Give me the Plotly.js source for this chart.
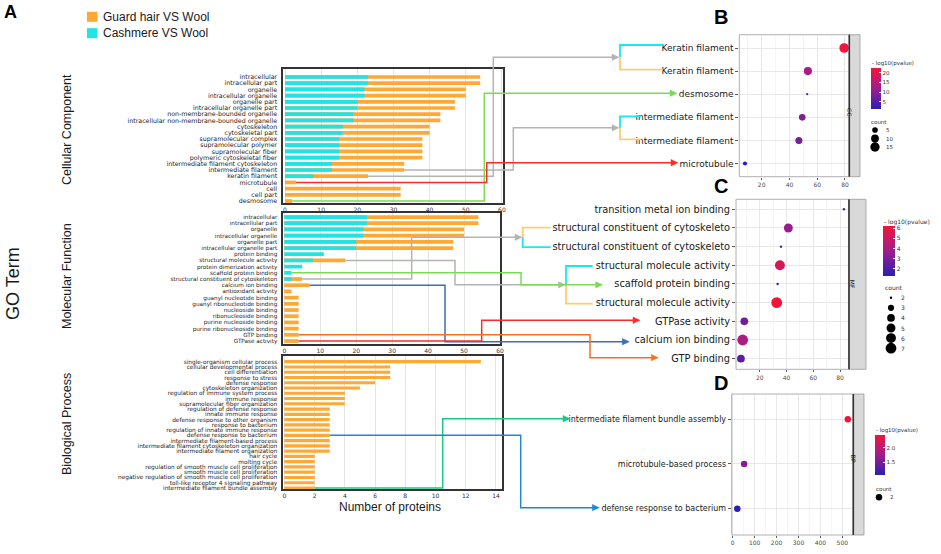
<!DOCTYPE html>
<html><head><meta charset="utf-8">
<script src="https://cdn.plot.ly/plotly-3.0.1.min.js"></script>
<style>html,body{margin:0;padding:0;background:#fff}</style>
</head><body><div id="chart" style="width:941px;height:554px"></div>
<script>
// ---------------- data ----------------
const ccTerms = ["intracellular","intracellular part","organelle","intracellular organelle","organelle part","intracellular organelle part","non-membrane-bounded organelle","intracellular non-membrane-bounded organelle","cytoskeleton","cytoskeletal part","supramolecular complex","supramolecular polymer","supramolecular fiber","polymeric cytoskeletal fiber","intermediate filament cytoskeleton","intermediate filament","keratin filament","microtubule","cell","cell part","desmosome"];
const ccGuard    = [54,54,50,50,47,47,43,43,40,40,38,38,38,38,33,33,23,3,32,32,2];
const ccCashmere = [23,23,22,22,20,20,19,19,16,16,15,15,15,15,13,13,8,0,0,0,0];

const mfTerms = ["intracellular","intracellular part","organelle","intracellular organelle","organelle part","intracellular organelle part","protein binding","structural molecule activity","protein dimerization activity","scaffold protein binding","structural constituent of cytoskeleton","calcium ion binding","antioxidant activity","guanyl nucleotide binding","guanyl ribonucleotide binding","nucleoside binding","ribonucleoside binding","purine nucleoside binding","purine ribonucleoside binding","GTP binding","GTPase activity"];
const mfGuard    = [54,54,50,50,47,47,0,17,0,0,5,7,2,4,4,4,4,4,4,4,4];
const mfCashmere = [23,23,22,22,20,20,11,8,5,2,2,0,0,0,0,0,0,0,0,0,0];

const bpTerms = ["single-organism cellular process","cellular developmental process","cell differentiation","response to stress","defense response","cytoskeleton organization","regulation of immune system process","immune response","supramolecular fiber organization","regulation of defense response","innate immune response","defense response to other organism","response to bacterium","regulation of innate immune response","defense response to bacterium","intermediate filament-based process","intermediate filament cytoskeleton organization","intermediate filament organization","hair cycle","molting cycle","regulation of smooth muscle cell proliferation","smooth muscle cell proliferation","negative regulation of smooth muscle cell proliferation","toll-like receptor 4 signaling pathway","intermediate filament bundle assembly"];
const bpGuard = [13,7,7,7,6,5,4,4,4,3,3,3,3,3,3,3,3,3,2,2,2,2,2,2,2];

const bTerms = ["Keratin filament","Keratin filament","desmosome","intermediate filament","intermediate filament","microtubule"];
const bX     = [79.4,53.3,52.8,49.2,46.8,8.0];
const bLogP  = [22.6,13,5,9.5,8.5,1.4];
const bCount = [16,11,2,7,8,3];
const bCountLegend = [5,10,15];

const cTerms = ["transition metal ion binding","structural constituent of cytoskeleto","structural constituent of cytoskeleto","structural molecule activity","scaffold protein binding","structural molecule activity","GTPase activity","calcium ion binding","GTP binding"];
const cX     = [82.9,41.4,35.9,35.1,33.4,32.7,8.5,7.3,6.0];
const cLogP  = [1.8,3.6,1.5,5.3,1.3,6.2,2.8,4.1,2.3];
const cCount = [2,5,2,6,2,7,4,7,4];
const cCountLegend = [2,3,4,5,6,7];

const dTerms = ["intermediate filament bundle assembly","microtubule-based process","defense response to bacterium"];
const dX     = [525,52,21];
const dLogP  = [2.43,1.6,1.07];
const dCount = [2,2,2];
const dCountLegend = [2];

const seriesNames = ["Guard hair VS Wool","Cashmere VS Wool"];

// ---------------- layout geometry (pixels) ----------------
const W=941,H=554;
const P = {
  cc:{n:1,x:[283,503],xr:[-0.553,60.3],y:[69,203],yr:[20.32,-1.29]},
  mf:{n:2,x:[283,500],xr:[-0.36,60],y:[213,344],yr:[20.48,-0.65]},
  bp:{n:3,x:[283,502],xr:[-0.09,14.4],y:[355.7,489.3],yr:[24.25,-1.14]},
  B:{n:4,x:[739.3,849.3],xr:[3.9,83.1],y:[34.7,176.7],yr:[5.57,-0.576],strip:860,lab:"CC"},
  C:{n:5,x:[736,849],xr:[2.3,86.7],y:[199.3,369.3],yr:[8.57,-0.536],strip:866,lab:"MF"},
  D:{n:6,x:[731.7,853.3],xr:[-4.6,550],y:[394,535],yr:[2.59,-0.566],strip:864,lab:"BP"}
};
const X=(p,v)=>p.x[0]+(v-p.xr[0])/(p.xr[1]-p.xr[0])*(p.x[1]-p.x[0]);
const Y=(p,v)=>p.y[1]-(v-p.yr[0])/(p.yr[1]-p.yr[0])*(p.y[1]-p.y[0]);
const px=x=>x/W, py=y=>1-y/H;
const sfx=n=>n===1?'':String(n);

const FONT='Liberation Sans, Arial, sans-serif';
const SMALL='DejaVu Sans, sans-serif';
const ORANGE='#ffa834', CYAN='#22e3e3';
const CS=[[0,'#2b1fb2'],[0.5,'#a11c8d'],[1,'#f3143c']];

const traces=[], shapes=[], annotations=[];
const layout={width:W,height:H,margin:{l:0,r:0,t:0,b:0},paper_bgcolor:'#fff',plot_bgcolor:'#fff',
  barmode:'overlay',showlegend:false,font:{family:FONT},shapes,annotations};

function domains(p){return {x:[px(p.x[0]),px(p.x[1])],y:[py(p.y[1]),py(p.y[0])]};}

// ---------- bar panels ----------
function barPanel(p,terms,guard,cash,dtick,labSize){
  const s=sfx(p.n), d=domains(p);
  traces.push({type:'bar',orientation:'h',y:terms,x:guard,width:0.6,marker:{color:ORANGE},
    name:seriesNames[0],xaxis:'x'+s,yaxis:'y'+s,hoverinfo:'skip'});
  if(cash) traces.push({type:'bar',orientation:'h',y:terms,x:cash,width:0.6,marker:{color:CYAN},
    name:seriesNames[1],xaxis:'x'+s,yaxis:'y'+s,hoverinfo:'skip'});
  layout['xaxis'+s]={domain:d.x,range:p.xr,anchor:'y'+s,showgrid:true,gridcolor:'#e4e4e4',gridwidth:1,
    tick0:0,dtick:dtick,zeroline:false,showline:true,mirror:true,linecolor:'#333',linewidth:1.6,
    ticks:'',tickfont:{family:SMALL,size:6,color:'#333'},fixedrange:true};
  layout['yaxis'+s]={domain:d.y,range:p.yr,anchor:'x'+s,type:'category',categoryorder:'array',
    categoryarray:terms,tickmode:'array',tickvals:terms,ticktext:terms,showgrid:false,zeroline:false,
    showline:true,mirror:true,linecolor:'#333',linewidth:1.6,ticks:'',ticklabelstandoff:3,
    tickfont:{family:SMALL,size:labSize,color:'#222'},fixedrange:true};
}
barPanel(P.cc,ccTerms,ccGuard,ccCashmere,10,6.3);
barPanel(P.mf,mfTerms,mfGuard,mfCashmere,10,5.7);
barPanel(P.bp,bpTerms,bpGuard,null,2,5.8);

// ---------- dot panels ----------
function sizeScale(counts,dmin,dmax){
  const lo=Math.min(...counts), hi=Math.max(...counts);
  return v=> hi===lo ? (dmin+dmax)/2 : dmin+(dmax-dmin)*Math.sqrt(Math.max(0,(v-lo))/(hi-lo));
}
function dotPanel(p,terms,xs,logp,counts,opt){
  const s=sfx(p.n), d=domains(p), idx=terms.map((_,i)=>i), sz=sizeScale(counts,opt.dmin,opt.dmax);
  traces.push({type:'scatter',mode:'markers',x:xs,y:idx,xaxis:'x'+s,yaxis:'y'+s,hoverinfo:'skip',
    marker:{size:counts.map(sz),color:logp,colorscale:CS,showscale:true,line:{width:0},opacity:1,
      colorbar:{x:px(opt.cb.x),xanchor:'left',y:py(opt.cb.y0),yanchor:'top',len:opt.cb.y1-opt.cb.y0,lenmode:'pixels',
        thickness:opt.cb.w,thicknessmode:'pixels',xpad:0,ypad:0,outlinewidth:0,ticks:'inside',ticklen:2,
        tickcolor:'#fff',tickvals:opt.cb.ticks,ticktext:opt.cb.ticktext,tickfont:{family:SMALL,size:opt.cb.fs,color:'#333'}}}});
  layout['xaxis'+s]={domain:d.x,range:p.xr,anchor:'y'+s,showgrid:true,gridcolor:'#e6e6e6',gridwidth:0.9,
    tick0:0,dtick:opt.dtick,minor:{dtick:opt.dtick/2,tick0:0,showgrid:true,gridcolor:'#f2f2f2',gridwidth:0.7,ticks:''},
    zeroline:false,showline:false,ticks:'outside',ticklen:2,tickcolor:'#333',tickwidth:0.8,
    tickfont:{family:SMALL,size:6,color:'#4d4d4d'},fixedrange:true};
  layout['yaxis'+s]={domain:d.y,range:p.yr,anchor:'x'+s,tickmode:'array',tickvals:idx,ticktext:terms,
    showgrid:true,gridcolor:'#e6e6e6',gridwidth:0.9,zeroline:false,showline:false,ticks:'outside',ticklen:3,
    tickcolor:'#333',tickwidth:0.8,tickfont:{family:SMALL,size:opt.fs,color:'#1a1a1a'},fixedrange:true};
  shapes.push({type:'rect',xref:'paper',yref:'paper',x0:px(p.x[0]),x1:px(p.x[1]),y0:py(p.y[1]),y1:py(p.y[0]),line:{color:'#b0b0b0',width:1},layer:'above'});
  shapes.push({type:'rect',xref:'paper',yref:'paper',x0:px(p.x[1]),x1:px(p.strip),y0:py(p.y[1]),y1:py(p.y[0]),fillcolor:'#d9d9d9',line:{color:'#9a9a9a',width:0.8},layer:'above'});
  shapes.push({type:'line',xref:'paper',yref:'paper',x0:px(p.x[1]),x1:px(p.x[1]),y0:py(p.y[1]),y1:py(p.y[0]),line:{color:'#333',width:1.6},layer:'above'});
  annotations.push({xref:'paper',yref:'paper',x:px((p.x[1]+p.strip)/2+0.5),y:py((p.y[0]+p.y[1])/2),text:p.lab,textangle:90,
    showarrow:false,font:{family:SMALL,size:6,color:'#1a1a1a'}});
  annotations.push({xref:'paper',yref:'paper',x:px(opt.cb.x-1),y:py(opt.cb.y0-4.5),xanchor:'left',yanchor:'middle',
    text:'- log10(pvalue)',showarrow:false,font:{family:SMALL,size:opt.cb.fs,color:'#333'}});
  annotations.push({xref:'paper',yref:'paper',x:px(opt.leg.x-1),y:py(opt.leg.y),xanchor:'left',yanchor:'middle',
    text:'count',showarrow:false,font:{family:SMALL,size:opt.cb.fs,color:'#333'}});
  opt.leg.vals.forEach((v,k)=>{
    const r=sz(v)/2, cx=opt.leg.dx, cy=opt.leg.y0+k*opt.leg.dy;
    shapes.push({type:'circle',xref:'paper',yref:'paper',x0:px(cx-r),x1:px(cx+r),y0:py(cy+r),y1:py(cy-r),fillcolor:'#000',line:{width:0}});
    annotations.push({xref:'paper',yref:'paper',x:px(opt.leg.lx),y:py(cy),xanchor:'left',yanchor:'middle',text:String(v),
      showarrow:false,font:{family:SMALL,size:opt.cb.fs,color:'#333'}});
  });
}
dotPanel(P.B,bTerms,bX,bLogP,bCount,{dmin:2.2,dmax:9.6,dtick:20,fs:9,
  cb:{x:871,y0:67.7,y1:108.7,w:10,fs:5.5,ticks:[5,10,15,20]},
  leg:{x:870,y:121.7,vals:bCountLegend,dx:875,y0:130,dy:8.5,lx:884}});
dotPanel(P.C,cTerms,cX,cLogP,cCount,{dmin:2.4,dmax:10.8,dtick:20,fs:9.8,
  cb:{x:883,y0:226,y1:276,w:12,fs:6,ticks:[2,3,4,5,6]},
  leg:{x:884,y:287.7,vals:cCountLegend,dx:891,y0:297.7,dy:10.1,lx:899}});
dotPanel(P.D,dTerms,dX,dLogP,dCount,{dmin:6.5,dmax:6.5,dtick:100,fs:8,
  cb:{x:875,y0:435,y1:475,w:10,fs:5.5,ticks:[1.5,2.0],ticktext:['1.5','2.0']},
  leg:{x:875,y:488.7,vals:dCountLegend,dx:879,y0:497.3,dy:9,lx:888}});

// ---------- connectors ----------
function start(p,terms,guard,cash,name){
  const i=terms.indexOf(name); const v=Math.max(guard[i],cash?cash[i]:0);
  return [X(p,v),Y(p,i)];
}
function pathStr(pts){return pts.map((q,k)=>(k?'L':'M')+px(q[0]).toFixed(5)+','+py(q[1]).toFixed(5)).join(' ');}
function poly(pts,color,w){shapes.push({type:'path',xref:'paper',yref:'paper',path:pathStr(pts),line:{color:color,width:w||1.5},layer:'above'});}
function arrow(pts,color){
  const n=pts.length, tip=pts[n-1];
  const body=pts.slice(0,n-1).concat([[tip[0]-5,tip[1]]]);
  poly(body,color);
  shapes.push({type:'path',xref:'paper',yref:'paper',path:pathStr([[tip[0],tip[1]],[tip[0]-7,tip[1]-3.2],[tip[0]-7,tip[1]+3.2]])+' Z',
    fillcolor:color,line:{color:color,width:0.5},layer:'above'});
}
function bracket(yTop,yBot,xv,xend,cTop,cBot){
  const j=(yTop+yBot)/2;
  poly([[xend,yTop],[xv,yTop],[xv,j]],cTop,1.8);
  poly([[xv,j],[xv,yBot],[xend,yBot]],cBot,1.8);
  return j;
}
const GREY='#b4b4b4', BCY='#17e8f2', BOR='#ffcb74';
const sC=n=>start(P.cc,ccTerms,ccGuard,ccCashmere,n);
let j=bracket(Y(P.B,0)-3,Y(P.B,1)-1.5,620,663,BCY,BOR);
let s=sC('keratin filament'); arrow([s,[493.3,s[1]],[493.3,j],[619,j]],GREY);
j=bracket(Y(P.B,3)-1,Y(P.B,4)-1,620,641,BCY,BOR);
s=sC('intermediate filament'); arrow([s,[513.3,s[1]],[513.3,j],[619,j]],GREY);
s=sC('desmosome'); arrow([s,[484.3,s[1]],[484.3,Y(P.B,2)-1],[677,Y(P.B,2)-1]],'#7ed957');
s=sC('microtubule'); arrow([s,[486.7,s[1]],[486.7,Y(P.B,5)-0.8],[678,Y(P.B,5)-0.8]],'#ff2b2b');
const sM=n=>start(P.mf,mfTerms,mfGuard,mfCashmere,n);
j=bracket(Y(P.C,1)-0.4,Y(P.C,2)+0.4,522.7,550.7,BOR,BCY);
s=sM('structural constituent of cytoskeleton'); arrow([s,[411.7,s[1]],[411.7,j],[522,j]],GREY);
const j2=bracket(Y(P.C,3)+0.7,Y(P.C,5)+1,566,592.7,BCY,BOR);
s=sM('structural molecule activity'); arrow([s,[455,s[1]],[455,j2],[565.5,j2]],GREY);
s=sM('scaffold protein binding'); arrow([s,[521,s[1]],[521,j2],[602.7,j2]],'#7ed957');
s=sM('calcium ion binding'); arrow([s,[445,s[1]],[445,Y(P.C,7)+1.7],[629.3,Y(P.C,7)+1.7]],'#3b6fb6');
s=sM('GTPase activity'); arrow([s,[481.7,s[1]],[481.7,Y(P.C,6)-1],[640,Y(P.C,6)-1]],'#ff2b2b');
s=sM('GTP binding'); arrow([s,[590,s[1]],[590,Y(P.C,8)-1],[658.3,Y(P.C,8)-1]],'#f2711c');
const sB=n=>start(P.bp,bpTerms,bpGuard,null,n);
s=sB('intermediate filament bundle assembly'); arrow([s,[442.7,s[1]],[442.7,Y(P.D,0)-0.6],[570,Y(P.D,0)-0.6]],'#19c97f');
s=sB('defense response to bacterium'); arrow([s,[520.7,s[1]],[520.7,Y(P.D,2)-1],[599.3,Y(P.D,2)-1]],'#1b8ad3');

// ---------- legend & titles ----------
[[ORANGE,16.8],[CYAN,33.2]].forEach((c,k)=>{
  shapes.push({type:'rect',xref:'paper',yref:'paper',x0:px(87),x1:px(97.5),y0:py(c[1]+5),y1:py(c[1]-5),fillcolor:c[0],line:{width:0}});
  annotations.push({xref:'paper',yref:'paper',x:px(101),y:py(c[1]),xanchor:'left',yanchor:'middle',text:seriesNames[k],
    showarrow:false,font:{family:FONT,size:12,color:'#1a1a1a'}});
});
function txt(x,y,t,size,o){annotations.push(Object.assign({xref:'paper',yref:'paper',x:px(x),y:py(y),text:t,showarrow:false,
  xanchor:'center',yanchor:'middle',font:{family:FONT,size:size,color:'#1a1a1a'}},o||{}));}
txt(10,12,'<b>A</b>',18,{font:{family:FONT,size:18,color:'#000'}});
txt(720.5,17,'<b>B</b>',20,{font:{family:FONT,size:20,color:'#000'}});
txt(720.5,186,'<b>C</b>',20,{font:{family:FONT,size:20,color:'#000'}});
txt(720.5,383.3,'<b>D</b>',20,{font:{family:FONT,size:20,color:'#000'}});
txt(13,284,'GO Term',18,{textangle:-90});
txt(67,130,'Cellular Component',12.5,{textangle:-90});
txt(67,276,'Molecular Function',12.5,{textangle:-90});
txt(67,424,'Biological Process',12.5,{textangle:-90});
txt(390.3,507.3,'Number of proteins',12);

Plotly.newPlot('chart',traces,layout,{displayModeBar:false,staticPlot:true});
</script></body></html>
